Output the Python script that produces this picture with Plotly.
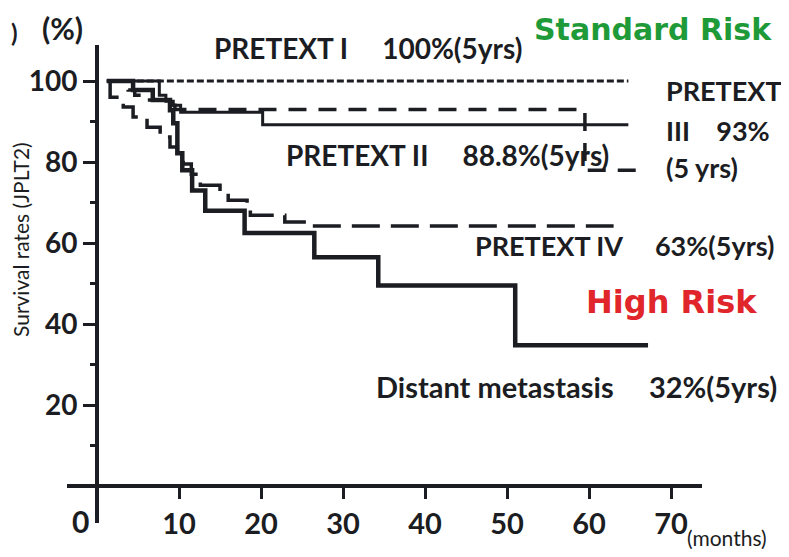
import plotly.graph_objects as go

# ---- data (months, survival %) ----
t_pretext1 = [1.2, 64.8]
s_pretext1 = [100, 100]

t_pretext2 = [1.2, 7.6, 8.4, 9.3, 10.2, 20.2, 64.8]
s_pretext2 = [100, 96.5, 95.0, 94.0, 92.3, 89.2, 89.2]

t_pretext3 = [1.2, 3.8, 4.6, 5.9, 8.5, 9.5, 59.5, 66.5]
s_pretext3 = [100, 97.8, 96.5, 95.3, 94.0, 93.0, 78.0, 78.0]

t_pretext4 = [1.2, 1.6, 3.2, 4.4, 6.1, 7.7, 8.9, 9.8, 10.5, 11.5, 12.6, 15.0, 16.0, 18.3, 18.7, 22.9, 26.0, 63.0]
s_pretext4 = [100, 96.0, 93.6, 91.1, 88.6, 86.2, 83.7, 82.2, 79.5, 77.0, 74.3, 72.6, 70.6, 68.9, 66.9, 65.2, 64.2, 64.2]

t_distant = [1.2, 4.4, 6.8, 8.9, 9.3, 9.8, 10.4, 11.6, 13.2, 18.0, 26.5, 34.3, 51.0, 67.2]
s_distant = [100, 97.8, 95.3, 92.8, 89.6, 82.2, 78.0, 73.0, 68.0, 62.5, 56.5, 49.5, 34.8, 34.8]

x_ticks = [10, 20, 30, 40, 50, 60, 70]
y_ticks = [20, 40, 60, 80, 100]
y_minor = [10, 30, 50, 70, 90]

# ---- layout geometry (page body has an 8px margin) ----
OFF = 8
W, H = 789 - OFF - 1, 557 - 2 * OFF
L_EDGE, R_EDGE, T_EDGE, B_EDGE = 67, 702, 45, 523   # plot box in screen px
ML, MT = L_EDGE - OFF, T_EDGE - OFF
MR, MB = W - (R_EDGE - OFF), H - (B_EDGE - OFF)
PW, PH = R_EDGE - L_EDGE, B_EDGE - T_EDGE


def px(x, y):
    return (x - L_EDGE) / PW, (B_EDGE - y) / PH

ink = "#1b1d22"
fig = go.Figure()

def add_curve(t, s, width, dash):
    fig.add_trace(go.Scatter(x=t, y=s, mode="lines", line_shape="hv",
                             line=dict(color=ink, width=width, dash=dash),
                             showlegend=False, hoverinfo="skip"))

add_curve(t_pretext1, s_pretext1, 3, "7px,3px")
add_curve(t_pretext3, s_pretext3, 3.5, "18px,12px")
add_curve(t_pretext4, s_pretext4, 3.5, "28px,11px")
add_curve(t_pretext2, s_pretext2, 3, "solid")
add_curve(t_distant, s_distant, 4.5, "solid")

x_pos0 = (97 - L_EDGE) / PW
y_pos0 = (B_EDGE - 486) / PH

fig.update_layout(
    width=W, height=H,
    margin=dict(l=ML, r=MR, t=MT, b=MB, autoexpand=False),
    paper_bgcolor="white", plot_bgcolor="white",
    font=dict(family="Lato", color=ink),
    xaxis=dict(range=[-3.66, 73.78], anchor="free", position=y_pos0,
               showline=True, linecolor=ink, linewidth=4,
               showgrid=False, zeroline=False, automargin=False,
               tickvals=x_ticks, ticktext=[str(v) for v in x_ticks],
               ticks="outside", ticklen=11, tickwidth=3, tickcolor=ink,
               tickfont=dict(family="Lato", size=29, color=ink, weight="bold")),
    yaxis=dict(range=[-9.1, 108.9], anchor="free", position=x_pos0,
               showline=True, linecolor=ink, linewidth=4,
               showgrid=False, zeroline=False, automargin=False,
               tickvals=y_ticks, ticktext=[str(v) for v in y_ticks],
               ticks="outside", ticklen=12, tickwidth=3, tickcolor=ink,
               tickfont=dict(family="Lato", size=28, color=ink, weight="bold"),
               minor=dict(tickvals=y_minor, ticks="outside", ticklen=5,
                          tickwidth=3, tickcolor=ink)),
)

def label(text, x, y, size=28, color=ink, family="Lato", anchor="left", bold=True, angle=0):
    xp, yp = px(x, y)
    fig.add_annotation(x=xp, y=yp, xref="paper", yref="paper", text=text,
                       showarrow=False, xanchor=anchor, yanchor="middle",
                       textangle=angle,
                       font=dict(family=family, size=size, color=color,
                                 weight="bold" if bold else "normal"))

nb = "\u00a0"
label("(%)", 62, 28, size=30, anchor="center")
label(")", 9, 32, size=24, anchor="left")
label("PRETEXT I" + nb * 5 + "100%(5yrs)", 212, 48)
label("Standard Risk", 532, 30, size=30, color="#1f9a38", family="DejaVu Sans")
label("PRETEXT", 664, 90, size=27)
label("III" + nb * 4 + "93%", 664, 130, size=27)
label("(5 yrs)", 664, 167, size=27)
label("PRETEXT II" + nb * 5 + "88.8%(5yrs)", 284, 155)
label("PRETEXT IV" + nb * 5 + "63%(5yrs)", 473, 245, size=27)
label("High Risk", 584, 302, size=32, color="#e0262a", family="DejaVu Sans")
label("Distant metastasis" + nb * 5 + "32%(5yrs)", 374, 387, size=29)
label("0", 80, 521, size=30, anchor="center")
label("(months)", 727, 537, size=21, anchor="center", bold=False)
label("Survival rates (JPLT2)", 20, 240, size=21, anchor="center", bold=False, angle=-90)

fig.write_html("out.html")
